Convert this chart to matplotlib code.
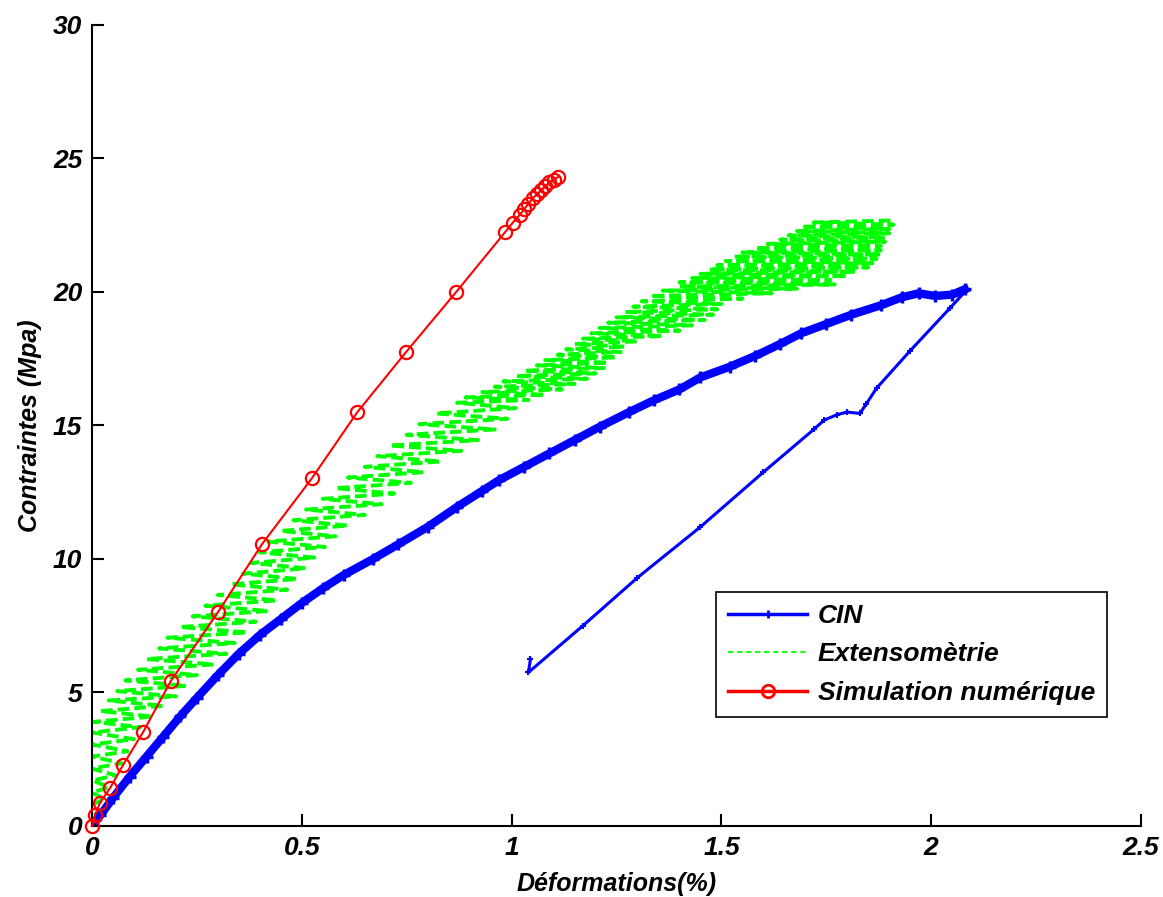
import matplotlib
matplotlib.use("Agg")
import matplotlib.pyplot as plt
from matplotlib.lines import Line2D

plt.rcParams['font.family'] = ['Liberation Sans', 'DejaVu Sans']

# CIN : loading branch then unloading branch
cin_load_x = [0, 0.02, 0.05, 0.09, 0.13, 0.17, 0.21, 0.25, 0.30, 0.35, 0.40, 0.45, 0.50,
              0.55, 0.60, 0.67, 0.73, 0.80, 0.87, 0.93, 0.97, 1.03, 1.09, 1.15, 1.21,
              1.28, 1.34, 1.40, 1.45, 1.52, 1.58, 1.64, 1.69, 1.75, 1.81, 1.88, 1.93,
              1.97, 2.01, 2.05, 2.08]
cin_load_y = [0, 0.4, 1.05, 1.85, 2.6, 3.35, 4.1, 4.8, 5.65, 6.45, 7.15, 7.75, 8.35,
              8.9, 9.4, 10.0, 10.55, 11.2, 11.95, 12.55, 12.95, 13.45, 13.95, 14.45, 14.95,
              15.5, 15.95, 16.35, 16.8, 17.2, 17.6, 18.05, 18.45, 18.8, 19.15, 19.5, 19.8,
              19.95, 19.85, 19.9, 20.1]
cin_unload_x = [2.08, 2.045, 1.95, 1.87, 1.845, 1.83, 1.80, 1.775, 1.745, 1.72, 1.60,
                1.45, 1.30, 1.17, 1.04, 1.045]
cin_unload_y = [20.0, 19.4, 17.8, 16.4, 15.8, 15.45, 15.5, 15.4, 15.2, 14.85, 13.25,
                11.2, 9.3, 7.5, 5.75, 6.25]

# Extensometrie : noisy signal sweeping across a band
ext_x = [0.000, 0.012, 0.000, 0.020, 0.000, 0.030, 0.000, 0.040, 0.002, 0.055,
         0.000, 0.070, 0.000, 0.085, 0.000, 0.100, 0.000, 0.115, 0.005, 0.145,
         0.020, 0.170, 0.040, 0.200, 0.060, 0.225, 0.080, 0.250, 0.110, 0.290,
         0.130, 0.320, 0.160, 0.340, 0.180, 0.370, 0.210, 0.390, 0.240, 0.420,
         0.270, 0.440, 0.300, 0.465, 0.330, 0.490, 0.360, 0.510, 0.380, 0.530,
         0.400, 0.555, 0.420, 0.580, 0.450, 0.610, 0.480, 0.650, 0.510, 0.690,
         0.550, 0.720, 0.580, 0.760, 0.610, 0.790, 0.650, 0.830, 0.680, 0.880,
         0.710, 0.920, 0.750, 0.960, 0.780, 0.990, 0.820, 1.010, 0.870, 1.040,
         0.890, 1.080, 0.930, 1.120, 0.960, 1.150, 0.980, 1.180, 1.010, 1.200,
         1.030, 1.220, 1.060, 1.230, 1.080, 1.250, 1.110, 1.260, 1.130, 1.270,
         1.150, 1.300, 1.170, 1.360, 1.190, 1.400, 1.210, 1.430, 1.230, 1.460,
         1.250, 1.480, 1.270, 1.490, 1.290, 1.500, 1.310, 1.550, 1.330, 1.620,
         1.360, 1.680, 1.400, 1.770, 1.400, 1.760, 1.430, 1.800, 1.450, 1.820,
         1.470, 1.850, 1.490, 1.860, 1.510, 1.870, 1.530, 1.880, 1.550, 1.880,
         1.580, 1.880, 1.610, 1.890, 1.640, 1.890, 1.660, 1.900, 1.680, 1.900,
         1.690, 1.910, 1.720, 1.910]
ext_y = [0.00, 0.15, 0.35, 0.55, 0.80, 1.00, 1.25, 1.45, 1.70, 1.90,
         2.15, 2.35, 2.60, 2.80, 3.05, 3.25, 3.50, 3.70, 3.90, 4.10,
         4.30, 4.50, 4.70, 4.85, 5.05, 5.25, 5.45, 5.65, 5.85, 6.05,
         6.25, 6.45, 6.65, 6.85, 7.05, 7.25, 7.45, 7.65, 7.85, 8.05,
         8.25, 8.45, 8.65, 8.85, 9.05, 9.25, 9.45, 9.65, 9.85, 10.05,
         10.25, 10.45, 10.65, 10.85, 11.05, 11.25, 11.45, 11.65, 11.85, 12.05,
         12.25, 12.45, 12.65, 12.85, 13.05, 13.25, 13.45, 13.65, 13.85, 14.05,
         14.25, 14.45, 14.65, 14.85, 15.05, 15.25, 15.45, 15.65, 15.85, 15.95,
         16.05, 16.15, 16.25, 16.35, 16.45, 16.55, 16.65, 16.75, 16.85, 16.95,
         17.05, 17.15, 17.25, 17.35, 17.45, 17.55, 17.65, 17.75, 17.85, 17.95,
         18.05, 18.15, 18.25, 18.35, 18.45, 18.55, 18.65, 18.75, 18.85, 18.95,
         19.05, 19.15, 19.25, 19.35, 19.45, 19.55, 19.65, 19.75, 19.85, 19.95,
         20.05, 20.12, 20.20, 20.28, 20.36, 20.44, 20.52, 20.60, 20.68, 20.76,
         20.84, 20.92, 21.00, 21.08, 21.16, 21.24, 21.32, 21.40, 21.48, 21.56,
         21.64, 21.72, 21.80, 21.88, 21.96, 22.04, 22.12, 22.20, 22.28, 22.36,
         22.44, 22.52, 22.60, 22.68]

# Simulation numerique
sim_x = [0, 0.007, 0.019, 0.043, 0.074, 0.122, 0.188, 0.30, 0.405, 0.524, 0.632,
         0.748, 0.867, 0.984, 1.003, 1.02, 1.03, 1.04, 1.05, 1.06, 1.07, 1.08,
         1.09, 1.10, 1.11]
sim_y = [0, 0.41, 0.86, 1.42, 2.28, 3.52, 5.43, 8.0, 10.55, 13.02, 15.49,
         17.74, 19.98, 22.23, 22.6, 22.9, 23.1, 23.3, 23.5, 23.65, 23.8, 23.95,
         24.1, 24.2, 24.3]

xticks = [0, 0.5, 1, 1.5, 2, 2.5]
xlabels = ['0', '0.5', '1', '1.5', '2', '2.5']
yticks = [0, 5, 10, 15, 20, 25, 30]

fnt = dict(fontsize=18, fontweight='bold', fontstyle='italic')

fig = plt.figure(figsize=(11.63, 8.97), dpi=100)
ax = fig.add_axes([0.0791, 0.0792, 0.902, 0.893])

ax.plot(ext_x, ext_y, color='#00ff00', lw=2.8, dashes=(3, 1.3))
ax.plot(cin_load_x, cin_load_y, color='#0000ff', lw=6, marker='+', ms=8, mew=2.5)
ax.plot(cin_unload_x, cin_unload_y, color='#0000ff', lw=2.2, marker='+', ms=5, mew=1.5)
ax.plot(sim_x, sim_y, color='#ff0000', lw=1.5, marker='o', ms=9.5, mfc='none',
        mew=1.6, clip_on=False, zorder=5)

ax.set_xlim(0, 2.5)
ax.set_ylim(0, 30)
ax.set_xticks(xticks)
ax.set_xticklabels(xlabels)
ax.set_yticks(yticks)
for s in ['top', 'right']:
    ax.spines[s].set_visible(False)
for s in ['left', 'bottom']:
    ax.spines[s].set_linewidth(1.5)
ax.tick_params(direction='in', length=8.5, width=1.5, labelsize=19)
ax.tick_params(axis='x', pad=7)
ax.tick_params(axis='y', pad=7)
for lab in ax.get_xticklabels() + ax.get_yticklabels():
    lab.set_fontweight('bold')
    lab.set_fontstyle('italic')

ax.set_xlabel('Déformations(%)', labelpad=9, **fnt)
ax.set_ylabel('Contraintes (Mpa)', labelpad=8, **fnt)

handles = [
    Line2D([], [], color='#0000ff', lw=2.5, marker='+', ms=6, mew=2),
    Line2D([], [], color='#00ff00', lw=1.3, dashes=(3, 2)),
    Line2D([], [], color='#ff0000', lw=2.5, marker='o', ms=9, mfc='none', mew=2),
]
leg = ax.legend(handles, ['CIN', 'Extensomètrie', 'Simulation numérique'],
                loc='upper right', bbox_to_anchor=(0.9676, 0.2921), borderaxespad=0,
                fancybox=False, edgecolor='black', framealpha=1, handlelength=3.0,
                handletextpad=0.4, labelspacing=0.55, borderpad=0.45,
                prop=dict(size=19, weight='bold', style='italic'))
leg.get_frame().set_linewidth(1.2)

fig.savefig('out.png', dpi=100)
